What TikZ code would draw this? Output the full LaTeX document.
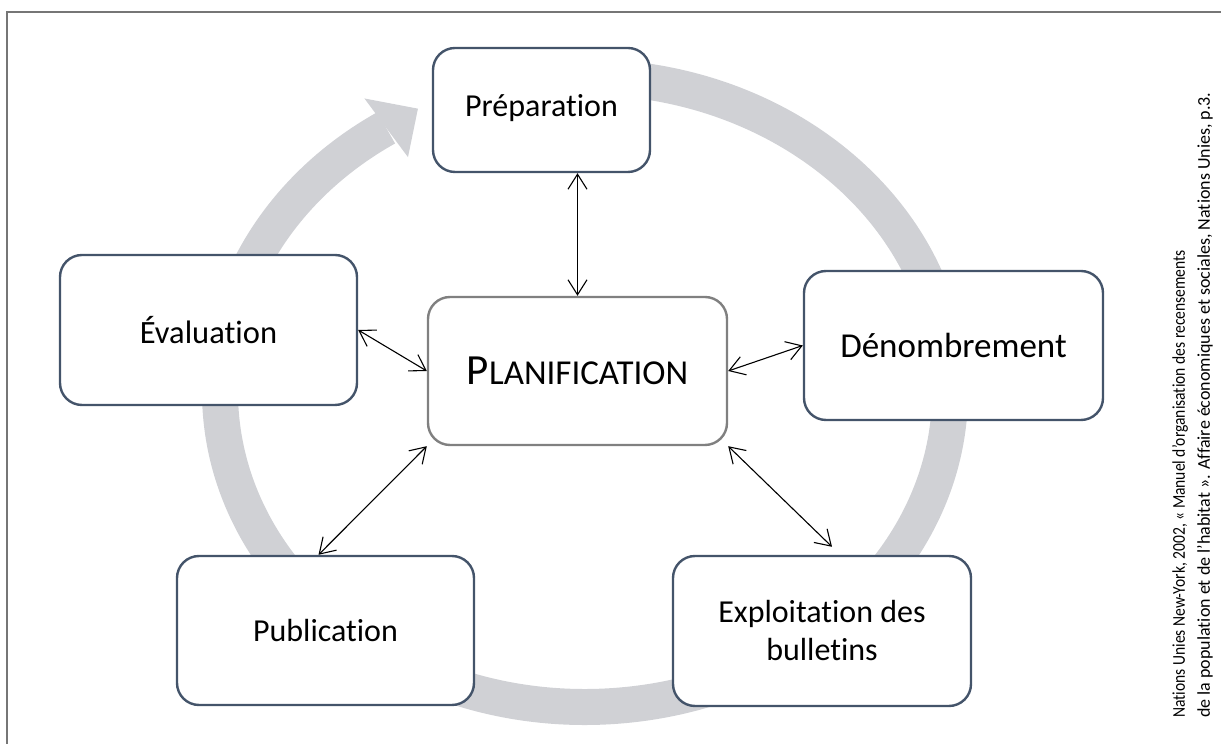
\documentclass[tikz,border=0pt]{standalone}
\usepackage{fontspec}
\setmainfont{Carlito}[Ligatures=NoCommon]
\usetikzlibrary{arrows.meta,calc}
\definecolor{boxc}{HTML}{44546A}
\definecolor{ringc}{HTML}{D0D1D5}
\definecolor{planc}{HTML}{808080}
\definecolor{framec}{HTML}{767676}
\begin{document}
\begin{tikzpicture}[x=1pt,y=1pt,
  stagebox/.style={draw=boxc, line width=2.4pt, fill=white, rounded corners=22pt,
    align=center, font=\fontsize{32}{38}\selectfont, inner sep=0pt},
  planbox/.style={stagebox, draw=planc},
  dbl/.style={{Straight Barb[length=15pt,width=19pt]}-{Straight Barb[length=15pt,width=19pt]}, line width=1.1pt, black}
]
\useasboundingbox (0,0) rectangle (1221,744);
\clip (0,0) rectangle (1221,744);
% frame
\draw[framec, line width=1.6pt] (7,732) rectangle (1240,-20);
% ring
\coordinate (ctr) at (585,352);
\draw[ringc, line width=36pt] ($(ctr)+(95:365pt and 315pt)$)
  arc[start angle=95, end angle=-237, x radius=365pt, y radius=315pt];
\fill[ringc] ($(ctr)+(123:405pt and 350pt)$) -- ($(ctr)+(117:368pt and 318pt)$)
  -- ($(ctr)+(123:325pt and 280pt)$) -- cycle;
% boxes
\node[stagebox, minimum width=217pt, minimum height=124pt] (prep) at (541.5,634) {\raisebox{9pt}{Préparation}};
\node[stagebox, minimum width=297pt, minimum height=150pt, font=\fontsize{32.5}{38}\selectfont] (eval) at (208.5,414) {Évaluation};
\node[stagebox, minimum width=299pt, minimum height=149pt, font=\fontsize{35}{40}\selectfont] (denom) at (953.5,398.5) {Dénombrement};
\node[planbox, minimum width=299pt, minimum height=148pt] (plan) at (577.5,373)
  {{\fontsize{43}{43}\selectfont P}{\fontsize{35}{43}\selectfont LANIFICATION}};
\node[stagebox, minimum width=297pt, minimum height=149pt] (pub) at (325.5,113.5) {Publication};
\node[stagebox, minimum width=298pt, minimum height=150pt] (explo) at (822,113) {Exploitation des\\bulletins};
% connectors
\draw[dbl] (plan.north) -- (plan.north |- prep.south);
\draw[dbl] (eval.east) -- (plan.west);
\draw[dbl] (plan.east) -- (denom.west);
\draw[dbl] (plan.south west) -- ($(pub.north)+(-7,0)$);
\draw[dbl] (plan.south east) -- ($(explo.north)+(10,8)$);
% citation
\node[rotate=90, anchor=north west, align=left, inner sep=0pt,
  font=\fontsize{18}{25}\selectfont] (cite) at (1172,26)
  {\scalebox{0.865}[1]{Nations Unies New-York, 2002, « Manuel d’organisation des recensements}\\
   de la population et de l’habitat ». Affaire économiques et sociales, Nations Unies, p.3.};
\end{tikzpicture}
\end{document}
